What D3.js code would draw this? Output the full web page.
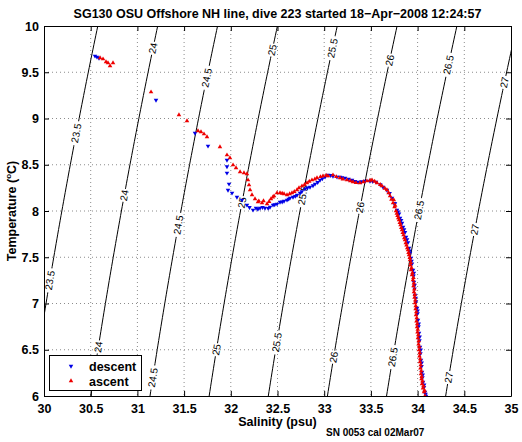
<!DOCTYPE html>
<html><head><meta charset="utf-8">
<script src="https://cdn.jsdelivr.net/npm/d3@7"></script>
<style>
body{margin:0;background:#fff;}
text{font-family:"Liberation Sans",Arial,Helvetica,sans-serif;}
</style></head>
<body><svg id="chart" width="522" height="442"></svg>
<script>
// ---------- data ----------
const titleText = "SG130 OSU Offshore NH line, dive 223 started 18\u2212Apr\u22122008 12:24:57";
const xTicks = [30, 30.5, 31, 31.5, 32, 32.5, 33, 33.5, 34, 34.5, 35];
const yTicks = [6, 6.5, 7, 7.5, 8, 8.5, 9, 9.5, 10];
const sigmaLevels = [23.5, 24, 24.5, 25, 25.5, 26, 26.5, 27];
// temperatures where each contour carries a label
const labelTemps = [
  [8.84, 7.25],
  [9.76, 8.17, 6.53],
  [9.44, 7.85, 6.20],
  [9.74, 8.09, 6.50],
  [9.76, 8.17, 6.58],
  [9.63, 8.04, 6.42],
  [9.58, 8.01, 6.42],
  [9.39, 7.80, 6.20]
];
const descentS = [30.546,30.567,30.589,31.199,31.617,31.756,31.959,31.959,31.959,31.981,31.970,32.013,32.066,32.120,32.173,32.238,32.270,32.313,32.366,32.420,32.452,32.495,32.527,32.570,32.602,32.634,32.666,32.709,32.741,32.794,32.848,32.902,32.955,33.009,33.041,33.094,33.137,33.169,33.223,33.298,33.362,33.437,33.490,33.555,33.630,33.672,33.726,33.758,33.779,33.801,33.812,33.833,33.844,33.865,33.876,33.897,33.908,33.919,33.929,33.940,33.951,33.956,33.961,33.967,33.972,33.983,33.994,33.999,34.004,34.010,34.015,34.020,34.026,34.031,34.036,34.042,34.047,34.052,34.058,34.068,34.079,34.090,
  33.790,33.823,33.855,33.887,33.915,33.935,33.960,33.968,33.980,34.000,34.012,34.022,34.033,34.044,34.055,34.070,34.085,
  32.200,32.290,32.340,32.400,32.470,32.550,32.620,32.690,32.760,32.820,32.880,32.930,32.980,33.070,33.190,33.260,33.330,33.400,33.520,33.600,33.700,33.750];
const descentT = [9.676,9.665,9.654,9.200,8.843,8.703,8.551,8.480,8.411,8.292,8.227,8.195,8.151,8.119,8.065,8.011,8.032,8.032,8.032,8.043,8.065,8.076,8.097,8.108,8.119,8.141,8.151,8.173,8.195,8.238,8.259,8.292,8.335,8.368,8.389,8.378,8.368,8.368,8.357,8.335,8.314,8.324,8.324,8.314,8.259,8.227,8.141,8.080,8.011,7.970,7.924,7.870,7.827,7.770,7.719,7.660,7.600,7.545,7.492,7.430,7.362,7.300,7.232,7.160,7.092,7.020,6.951,6.890,6.822,6.750,6.681,6.600,6.530,6.460,6.389,6.320,6.259,6.200,6.151,6.095,6.043,6.000,
  7.990,7.900,7.800,7.690,7.570,7.460,7.330,7.200,7.060,6.920,6.780,6.640,6.500,6.360,6.230,6.120,6.020,
  8.040,8.020,8.040,8.030,8.070,8.100,8.130,8.160,8.210,8.250,8.275,8.310,8.350,8.385,8.362,8.346,8.320,8.318,8.320,8.285,8.190,8.080];
const ascentS = [30.600,30.632,30.664,30.685,30.707,30.739,31.146,31.445,31.531,31.649,31.681,31.713,31.745,31.884,31.959,31.991,32.024,32.056,32.099,32.141,32.173,32.184,32.195,32.206,32.227,32.259,32.291,32.334,32.388,32.430,32.463,32.495,32.527,32.570,32.602,32.655,32.709,32.762,32.816,32.869,32.923,32.987,33.041,33.094,33.169,33.244,33.308,33.383,33.458,33.512,33.565,33.619,33.672,33.705,33.737,33.753,33.769,33.785,33.801,33.817,33.833,33.849,33.865,33.881,33.897,33.908,33.919,33.924,33.929,33.940,33.951,33.956,33.961,33.967,33.972,33.978,33.983,33.988,33.994,33.999,34.004,34.010,34.015,34.020,34.026,34.031,34.036,34.042,34.047,34.058,34.069,34.079,
  33.745,33.760,33.777,33.793,33.809,33.825,33.841,33.857,33.873,33.889,33.903,33.916,33.927,33.935,33.945,33.955,33.960,33.965,33.970,33.975,33.980,33.986,33.991,33.996,34.002,34.007,34.012,34.018,34.023,34.028,34.033,34.039,34.044,34.052,34.063,34.074,
  32.300,32.350,32.410,32.450,32.550,32.630,32.680,32.730,32.790,32.840,32.900,32.960,33.020,33.130,33.200,33.280,33.340,33.420,33.490,33.540,33.600,33.650,33.690,33.720];
const ascentT = [9.654,9.643,9.611,9.600,9.568,9.600,9.286,9.038,8.973,8.865,8.854,8.832,8.800,8.692,8.605,8.573,8.497,8.465,8.422,8.411,8.400,8.335,8.281,8.227,8.173,8.130,8.097,8.086,8.076,8.130,8.162,8.195,8.195,8.184,8.173,8.195,8.227,8.270,8.303,8.335,8.357,8.378,8.378,8.389,8.357,8.335,8.314,8.303,8.324,8.335,8.303,8.270,8.227,8.162,8.086,8.045,8.000,7.950,7.903,7.850,7.795,7.740,7.686,7.630,7.578,7.525,7.470,7.415,7.362,7.310,7.254,7.190,7.124,7.065,7.005,6.940,6.876,6.810,6.746,6.690,6.627,6.560,6.497,6.430,6.368,6.300,6.238,6.185,6.130,6.085,6.043,6.000,
  8.120,8.060,7.975,7.925,7.875,7.820,7.765,7.710,7.655,7.600,7.550,7.495,7.440,7.385,7.330,7.280,7.220,7.155,7.095,7.035,6.975,6.910,6.845,6.780,6.720,6.660,6.595,6.530,6.465,6.400,6.335,6.270,6.210,6.160,6.110,6.060,
  8.108,8.110,8.100,8.150,8.190,8.185,8.210,8.250,8.285,8.320,8.345,8.370,8.385,8.370,8.345,8.325,8.305,8.315,8.330,8.320,8.285,8.245,8.195,8.125];

// ---------- layout ----------
const svg = d3.select("#chart");
const pL = 44, pR = 511, pT = 26, pB = 396;
const x = d3.scaleLinear().domain([30, 35]).range([pL, pR]);
const y = d3.scaleLinear().domain([6, 10]).range([pB, pT]);

// UNESCO EOS-80 density at p=0 -> sigma
function sigma(S, t) {
  const rw = 999.842594 + 6.793952e-2*t - 9.095290e-3*t*t + 1.001685e-4*t**3 - 1.120083e-6*t**4 + 6.536332e-9*t**5;
  const A = 0.824493 - 4.0899e-3*t + 7.6438e-5*t*t - 8.2467e-7*t**3 + 5.3875e-9*t**4;
  const Bc = -5.72466e-3 + 1.0227e-4*t - 1.6546e-6*t*t;
  return rw + A*S + Bc*Math.pow(S, 1.5) + 4.8314e-4*S*S - 1000;
}
function salFor(level, t) {
  let lo = 20, hi = 40;
  for (let i = 0; i < 60; i++) { const m = (lo+hi)/2; if (sigma(m, t) < level) lo = m; else hi = m; }
  return (lo+hi)/2;
}

const defs = svg.append("defs");
defs.append("clipPath").attr("id","clip").append("rect").attr("x",pL).attr("y",pT).attr("width",pR-pL).attr("height",pB-pT);
const mask = defs.append("mask").attr("id","lblmask").attr("maskUnits","userSpaceOnUse")
  .attr("x",0).attr("y",0).attr("width",522).attr("height",442);
mask.append("rect").attr("x",0).attr("y",0).attr("width",522).attr("height",442).attr("fill","#fff");

// grid
const grid = svg.append("g");
xTicks.slice(1,-1).forEach(v => grid.append("line").attr("x1",x(v)).attr("x2",x(v)).attr("y1",pT).attr("y2",pB)
  .attr("stroke","#8c8c8c").attr("stroke-width",1).attr("stroke-dasharray","1,3"));
yTicks.slice(1,-1).forEach(v => grid.append("line").attr("x1",pL).attr("x2",pR).attr("y1",y(v)).attr("y2",y(v))
  .attr("stroke","#8c8c8c").attr("stroke-width",1).attr("stroke-dasharray","1,3"));

// contours
const tSamples = d3.range(5.8, 10.21, 0.05);
const line = d3.line().x(d => x(d[0])).y(d => y(d[1]));
const cg = svg.append("g").attr("clip-path","url(#clip)");
const lines = cg.append("g").attr("mask","url(#lblmask)");
const lbls = cg.append("g");
sigmaLevels.forEach((lev, i) => {
  const pts = tSamples.map(t => [salFor(lev, t), t]);
  lines.append("path").attr("d", line(pts)).attr("fill","none").attr("stroke","#000").attr("stroke-width",1);
  labelTemps[i].forEach(t => {
    const s = salFor(lev, t);
    const px = x(s), py = y(t);
    const s2 = salFor(lev, t + 0.1);
    const ang = Math.atan2(y(t+0.1) - py, x(s2) - px) * 180 / Math.PI;
    const txt = String(lev);
    const w = txt.length * 5.6 + 2;
    mask.append("rect").attr("x", -w/2).attr("y", -5).attr("width", w).attr("height", 10)
      .attr("fill","#000").attr("transform", `translate(${px},${py}) rotate(${ang})`);
    lbls.append("text").attr("transform", `translate(${px},${py}) rotate(${ang})`)
      .attr("text-anchor","middle").attr("dy","0.35em").attr("font-size",10).text(txt);
  });
});

// data
const tri = d3.symbol().type(d3.symbolTriangle).size(9);
const dg = svg.append("g").attr("clip-path","url(#clip)");
descentS.forEach((s, i) => dg.append("path").attr("d", tri())
  .attr("transform", `translate(${x(s)},${y(descentT[i])}) rotate(180)`).attr("fill","#0000e6"));
ascentS.forEach((s, i) => dg.append("path").attr("d", tri())
  .attr("transform", `translate(${x(s)},${y(ascentT[i])})`).attr("fill","#ee0000"));

// axes
const fmt = d => String(d);
const ax = svg.append("g");
const gBottom = ax.append("g").attr("transform",`translate(0,${pB})`).call(d3.axisBottom(x).tickValues(xTicks).tickFormat(fmt).tickSizeInner(-5).tickSizeOuter(0).tickPadding(5));
ax.append("g").attr("transform",`translate(0,${pT})`).call(d3.axisTop(x).tickValues(xTicks).tickFormat("").tickSizeInner(-5).tickSizeOuter(0));
ax.append("g").attr("transform",`translate(${pL},0)`).call(d3.axisLeft(y).tickValues(yTicks).tickFormat(fmt).tickSizeInner(-5).tickSizeOuter(0).tickPadding(5));
ax.append("g").attr("transform",`translate(${pR},0)`).call(d3.axisRight(y).tickValues(yTicks).tickFormat("").tickSizeInner(-5).tickSizeOuter(0));
ax.selectAll("path.domain").attr("stroke","#000");
ax.selectAll(".tick line").attr("stroke","#000");
ax.selectAll("text").attr("font-size",12.5).attr("font-weight","bold").attr("fill","#000")
  .style("font-family",'"Liberation Sans",Arial,sans-serif');
gBottom.selectAll("text").attr("dy","0.95em");

// legend
const lg = svg.append("g");
lg.append("rect").attr("x",49.5).attr("y",355.5).attr("width",92).attr("height",35).attr("fill","#fff").attr("stroke","#000");
lg.append("path").attr("d", tri()).attr("transform","translate(71,366) rotate(180)").attr("fill","#0000e6");
lg.append("path").attr("d", tri()).attr("transform","translate(71,381)").attr("fill","#ee0000");
lg.append("text").attr("x",89).attr("y",370.5).attr("font-size",12.5).attr("font-weight","bold").text("descent");
lg.append("text").attr("x",89).attr("y",385.5).attr("font-size",12.5).attr("font-weight","bold").text("ascent");

// titles
svg.append("text").attr("x",(pL+pR)/2).attr("y",18).attr("text-anchor","middle").attr("font-size",12.5).attr("font-weight","bold").text(titleText);
svg.append("text").attr("x",(pL+pR)/2).attr("y",426).attr("text-anchor","middle").attr("font-size",12.5).attr("font-weight","bold").text("Salinity (psu)");
const yl = svg.append("text").attr("transform",`translate(16,${(pT+pB)/2}) rotate(-90)`).attr("text-anchor","middle").attr("font-size",12.5).attr("font-weight","bold");
yl.append("tspan").text("Temperature (");
yl.append("tspan").attr("font-size",8).attr("dy",-5).text("o");
yl.append("tspan").attr("dy",5).text("C)");
svg.append("text").attr("x",326).attr("y",436).attr("font-size",10).attr("font-weight","bold").text("SN 0053 cal 02Mar07");
</script></body></html>
